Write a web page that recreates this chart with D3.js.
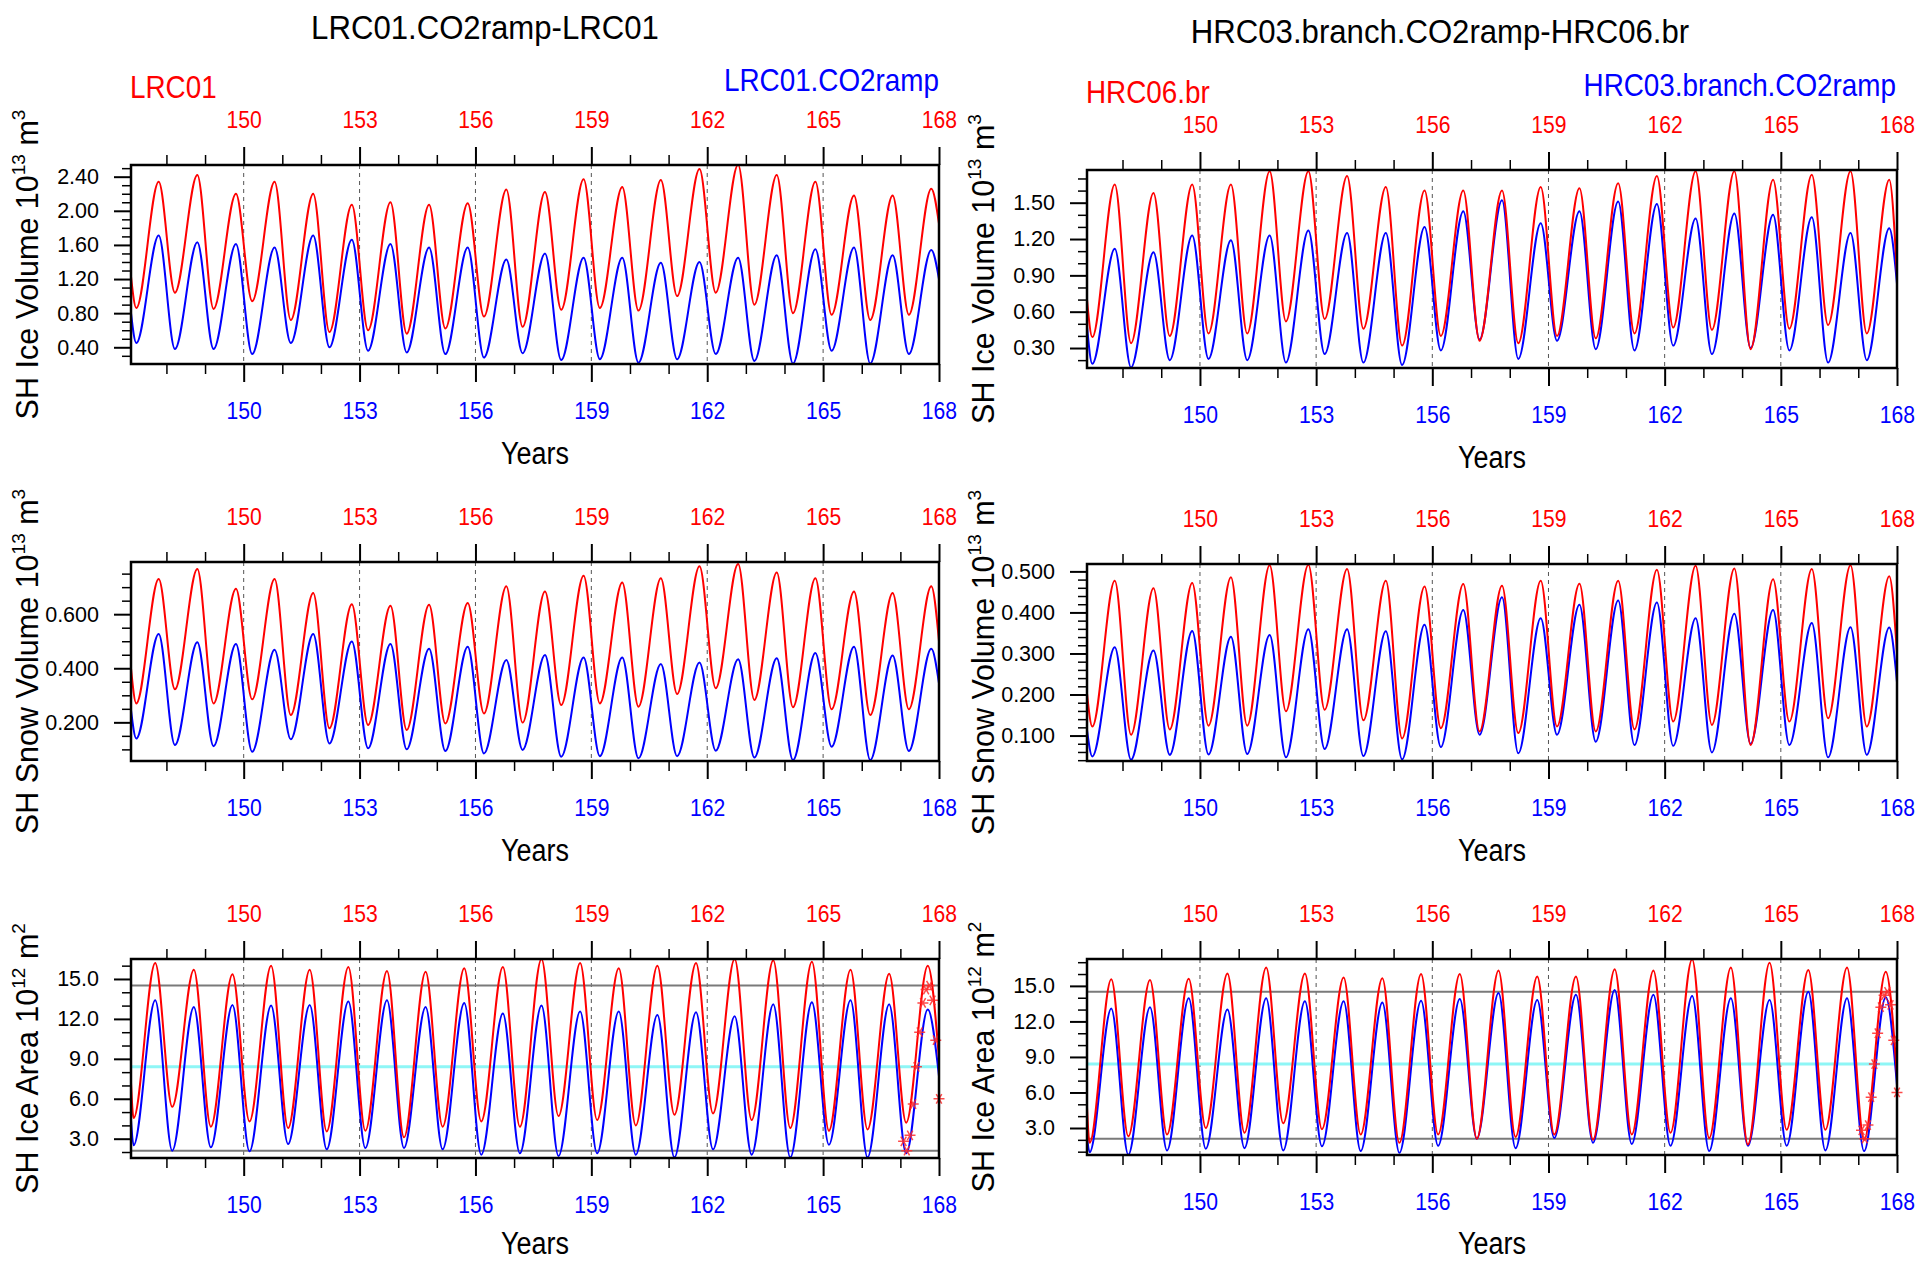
<!DOCTYPE html>
<html><head><meta charset="utf-8"><title>SH sea ice</title>
<script src="https://cdn.jsdelivr.net/npm/d3@7/dist/d3.min.js"></script>
<style>html,body{margin:0;padding:0;background:#fff}svg{display:block}</style>
</head><body>
<svg id="chart" width="1917" height="1262"></svg>
<script>
// ---------------- DATA ----------------
const leftTitle = "LRC01.CO2ramp-LRC01";
const rightTitle = "HRC03.branch.CO2ramp-HRC06.br";
const leftLegend = ["LRC01", "LRC01.CO2ramp"];
const rightLegend = ["HRC06.br", "HRC03.branch.CO2ramp"];

const years = [147,148,149,150,151,152,153,154,155,156,157,158,159,160,161,162,163,164,165,166,167];
const xMajorTicks = [150,153,156,159,162,165,168];
const xMinorTicks = [148,149,151,152,154,155,157,158,160,161,163,164,166,167];
const gridYears = [150,153,156,159,162,165];
const xDomain = [147.083, 168];

// timing of annual trough / peak within the year (fraction of year)
const volumePhase = [0.22, 0.80];
const areaPhase = [0.15, 0.71];

// ---- SH Ice Volume, LRC (10^13 m^3) ----
const lrcIceVolRedPeak   = [2.34,2.42,2.20,2.34,2.20,2.07,2.10,2.07,2.09,2.25,2.22,2.37,2.28,2.36,2.49,2.54,2.42,2.34,2.18,2.18,2.26];
const lrcIceVolRedTrough = [0.86,1.04,0.85,0.94,0.72,0.58,0.60,0.56,0.62,0.76,0.64,0.84,0.86,0.83,1.00,1.04,0.90,0.80,0.78,0.72,0.78];
const lrcIceVolRedEnds   = [1.23,1.85];
const lrcIceVolBluePeak   = [1.71,1.63,1.61,1.57,1.71,1.66,1.61,1.57,1.57,1.43,1.50,1.45,1.45,1.39,1.40,1.45,1.48,1.55,1.57,1.48,1.54];
const lrcIceVolBlueTrough = [0.45,0.38,0.38,0.32,0.45,0.40,0.36,0.34,0.32,0.28,0.33,0.25,0.26,0.22,0.26,0.32,0.24,0.21,0.36,0.21,0.32];
const lrcIceVolBlueEnds   = [0.80,1.20];

// ---- SH Ice Volume, HRC ----
const hrcIceVolRedPeak   = [1.65,1.58,1.65,1.65,1.76,1.76,1.72,1.63,1.60,1.60,1.60,1.63,1.62,1.66,1.72,1.76,1.76,1.69,1.73,1.76,1.69];
const hrcIceVolRedTrough = [0.39,0.34,0.40,0.42,0.42,0.52,0.54,0.46,0.32,0.40,0.36,0.34,0.40,0.38,0.42,0.47,0.45,0.29,0.46,0.49,0.42];
const hrcIceVolRedEnds   = [0.70,0.90];
const hrcIceVolBluePeak   = [1.12,1.09,1.23,1.19,1.23,1.27,1.25,1.25,1.30,1.43,1.52,1.33,1.43,1.51,1.49,1.37,1.41,1.40,1.38,1.25,1.29];
const hrcIceVolBlueTrough = [0.17,0.14,0.20,0.21,0.20,0.18,0.25,0.18,0.16,0.28,0.37,0.21,0.36,0.29,0.28,0.32,0.25,0.30,0.28,0.18,0.20];
const hrcIceVolBlueEnds   = [0.48,0.83];

// ---- SH Snow Volume, LRC ----
const lrcSnowVolRedPeak   = [0.730,0.767,0.694,0.730,0.678,0.637,0.631,0.635,0.641,0.703,0.684,0.742,0.717,0.733,0.777,0.786,0.754,0.733,0.684,0.678,0.703];
const lrcSnowVolRedTrough = [0.270,0.322,0.270,0.285,0.227,0.178,0.190,0.172,0.196,0.233,0.199,0.264,0.270,0.258,0.305,0.326,0.283,0.256,0.248,0.227,0.248];
const lrcSnowVolRedEnds   = [0.40,0.50];
const lrcSnowVolBluePeak   = [0.527,0.496,0.490,0.468,0.527,0.499,0.490,0.472,0.480,0.431,0.449,0.440,0.440,0.416,0.421,0.433,0.437,0.456,0.480,0.447,0.472];
const lrcSnowVolBlueTrough = [0.140,0.116,0.112,0.091,0.137,0.122,0.104,0.100,0.094,0.085,0.098,0.073,0.075,0.067,0.075,0.095,0.070,0.060,0.110,0.060,0.094];
const lrcSnowVolBlueEnds   = [0.245,0.344];

// ---- SH Snow Volume, HRC ----
const hrcSnowVolRedPeak   = [0.477,0.459,0.472,0.486,0.515,0.516,0.506,0.477,0.463,0.469,0.465,0.477,0.470,0.477,0.504,0.514,0.507,0.481,0.506,0.515,0.488];
const hrcSnowVolRedTrough = [0.122,0.102,0.115,0.124,0.124,0.159,0.163,0.137,0.093,0.118,0.110,0.106,0.122,0.110,0.115,0.134,0.126,0.077,0.134,0.142,0.122];
const hrcSnowVolRedEnds   = [0.203,0.30];
const hrcSnowVolBluePeak   = [0.315,0.307,0.355,0.341,0.345,0.359,0.359,0.354,0.370,0.406,0.437,0.386,0.419,0.429,0.424,0.386,0.397,0.406,0.374,0.364,0.363];
const hrcSnowVolBlueTrough = [0.049,0.041,0.053,0.054,0.055,0.047,0.067,0.050,0.042,0.072,0.102,0.057,0.102,0.085,0.077,0.075,0.059,0.080,0.077,0.047,0.053];
const hrcSnowVolBlueEnds   = [0.114,0.23];

// ---- SH Ice Area, LRC (10^12 m^2) ----
const lrcIceAreaRedPeak   = [16.2,15.7,15.35,16.0,15.7,15.9,15.6,15.55,15.8,15.9,16.5,16.2,15.8,16.0,16.2,16.5,16.4,16.3,15.7,15.4,16.0];
const lrcIceAreaRedTrough = [4.55,5.4,3.9,4.3,3.8,3.55,3.6,3.1,3.9,4.3,3.9,4.7,4.4,4.0,4.8,4.9,4.4,3.8,3.6,3.7,4.2];
const lrcIceAreaRedEnds   = [7.2,9.0];
const lrcIceAreaBluePeak   = [13.4,12.9,13.05,13.0,13.05,13.3,13.4,12.9,13.2,12.4,13.0,12.55,12.55,12.3,12.5,12.2,13.1,13.25,13.4,13.1,12.7];
const lrcIceAreaBlueTrough = [2.5,2.1,2.35,2.05,2.6,2.2,2.3,2.3,2.2,1.8,1.9,1.7,1.9,1.8,1.6,2.2,1.8,1.6,2.55,1.6,1.9];
const lrcIceAreaBlueEnds   = [4.4,7.7];

// ---- SH Ice Area, HRC ----
const hrcIceAreaRedPeak   = [15.55,15.5,15.6,16.05,16.55,16.05,15.7,15.65,16.0,16.0,16.3,15.8,15.8,16.4,16.3,17.25,16.55,16.95,16.35,16.55,16.2];
const hrcIceAreaRedTrough = [1.75,2.3,2.45,3.0,2.6,3.4,2.9,2.45,1.75,2.45,2.1,2.25,2.45,2.0,2.45,2.6,2.15,1.6,2.85,2.85,2.0];
const hrcIceAreaRedEnds   = [4.8,7.4];
const hrcIceAreaBluePeak   = [13.1,13.2,13.95,13.0,13.95,13.7,13.7,13.6,13.75,13.9,14.4,13.8,14.25,14.65,14.25,14.15,13.95,13.8,14.5,13.95,14.05];
const hrcIceAreaBlueTrough = [0.95,0.75,1.1,1.25,1.3,1.1,1.45,1.05,0.9,1.5,2.1,1.3,2.15,1.75,1.65,1.5,1.05,1.5,1.5,1.1,1.05];
const hrcIceAreaBlueEnds   = [2.3,6.6];

// observed monthly ice area (markers on the last year) and reference levels
const obsMonths = [1,2,3,4,5,6,7,8,9,10,11,12];
const obsArea = [2.8,2.1,3.25,5.6,8.4,11.0,13.2,14.2,14.5,13.4,10.4,6.0];
const obsLevels = [14.5, 2.1];
const obsMeanLevel = 8.4;
const obsYear = 167;

// y ranges and tick labels
const lrcIceVolRange = [0.204, 2.537];
const hrcIceVolRange = [0.135, 1.77];
const lrcSnowVolRange = [0.057, 0.793];
const hrcSnowVolRange = [0.038, 0.518];
const lrcIceAreaRange = [1.55, 16.5];
const hrcIceAreaRange = [0.72, 17.27];
const iceVolTicksLeft = [0.4,0.8,1.2,1.6,2.0,2.4];
const iceVolTicksRight = [0.3,0.6,0.9,1.2,1.5];
const snowVolTicksLeft = [0.2,0.4,0.6];
const snowVolTicksRight = [0.1,0.2,0.3,0.4,0.5];
const areaTicks = [3,6,9,12,15];

const volLabel = ["SH Ice Volume 10","13","\u00a0m","3"];
const snowLabel = ["SH Snow Volume 10","13","\u00a0m","3"];
const areaLabel = ["SH Ice Area 10","12","\u00a0m","2"];

// ---------------- LAYOUT ----------------
const FONT = '"Liberation Sans", Arial, Helvetica, sans-serif';
const cols = [{x0:131, x1:939}, {x0:1087, x1:1897}];

const panels = [
  {col:0, y0:165, y1:364, range:lrcIceVolRange, ticks:iceVolTicksLeft, fmt:".2f", minor:0.1, phase:volumePhase,
   red:[lrcIceVolRedTrough, lrcIceVolRedPeak, lrcIceVolRedEnds], blue:[lrcIceVolBlueTrough, lrcIceVolBluePeak, lrcIceVolBlueEnds], ylab:volLabel},
  {col:1, y0:170, y1:368, range:hrcIceVolRange, ticks:iceVolTicksRight, fmt:".2f", minor:0.1, phase:volumePhase,
   red:[hrcIceVolRedTrough, hrcIceVolRedPeak, hrcIceVolRedEnds], blue:[hrcIceVolBlueTrough, hrcIceVolBluePeak, hrcIceVolBlueEnds], ylab:volLabel},
  {col:0, y0:562, y1:761, range:lrcSnowVolRange, ticks:snowVolTicksLeft, fmt:".3f", minor:0.05, phase:volumePhase,
   red:[lrcSnowVolRedTrough, lrcSnowVolRedPeak, lrcSnowVolRedEnds], blue:[lrcSnowVolBlueTrough, lrcSnowVolBluePeak, lrcSnowVolBlueEnds], ylab:snowLabel},
  {col:1, y0:564, y1:761, range:hrcSnowVolRange, ticks:snowVolTicksRight, fmt:".3f", minor:0.02, phase:volumePhase,
   red:[hrcSnowVolRedTrough, hrcSnowVolRedPeak, hrcSnowVolRedEnds], blue:[hrcSnowVolBlueTrough, hrcSnowVolBluePeak, hrcSnowVolBlueEnds], ylab:snowLabel},
  {col:0, y0:959, y1:1158, range:lrcIceAreaRange, ticks:areaTicks, fmt:".1f", minor:1, phase:areaPhase, obs:true,
   red:[lrcIceAreaRedTrough, lrcIceAreaRedPeak, lrcIceAreaRedEnds], blue:[lrcIceAreaBlueTrough, lrcIceAreaBluePeak, lrcIceAreaBlueEnds], ylab:areaLabel},
  {col:1, y0:959, y1:1155, range:hrcIceAreaRange, ticks:areaTicks, fmt:".1f", minor:1, phase:areaPhase, obs:true,
   red:[hrcIceAreaRedTrough, hrcIceAreaRedPeak, hrcIceAreaRedEnds], blue:[hrcIceAreaBlueTrough, hrcIceAreaBluePeak, hrcIceAreaBlueEnds], ylab:areaLabel}
];

const svg = d3.select("#chart");
svg.append("rect").attr("width",1917).attr("height",1262).attr("fill","#fff");
const defs = svg.append("defs");

function txt(parent, x, y, str, size, anchor, color, sx) {
  return parent.append("text")
    .attr("transform", `translate(${x},${y}) scale(${sx||1},1)`)
    .attr("text-anchor", anchor).attr("font-family", FONT).attr("font-size", size)
    .attr("fill", color).text(str);
}

// titles and legends
txt(svg, 485, 39, leftTitle, 33.5, "middle", "#000", 0.93);
txt(svg, 1440, 43, rightTitle, 33.5, "middle", "#000", 0.93);
txt(svg, 130, 98, leftLegend[0], 32, "start", "#ff0000", 0.87);
txt(svg, 939, 91, leftLegend[1], 32, "end", "#0000ff", 0.87);
txt(svg, 1086, 103, rightLegend[0], 32, "start", "#ff0000", 0.87);
txt(svg, 1896, 96, rightLegend[1], 32, "end", "#0000ff", 0.87);

function buildPts(s, phase) {
  const [tr, pk, ends] = s;
  const pts = [[xDomain[0], ends[0]]];
  years.forEach((yr, i) => {
    pts.push([yr + phase[0], tr[i]]);
    pts.push([yr + phase[1], pk[i]]);
  });
  pts.push([xDomain[1], ends[1]]);
  return pts;
}

function minorTicks(range, step, majors) {
  const out = [];
  const k0 = Math.ceil(range[0] / step - 1e-9), k1 = Math.floor(range[1] / step + 1e-9);
  for (let k = k0; k <= k1; k++) {
    const v = +(k * step).toFixed(6);
    if (!majors.some(m => Math.abs(m - v) < step * 0.01)) out.push(v);
  }
  return out;
}

function asterisk(r) {
  const a = r * 0.5, b = r * 0.866;
  return `M${-r},0H${r}M${-a},${-b}L${a},${b}M${-a},${b}L${a},${-b}`;
}

panels.forEach((p, pi) => {
  const c = cols[p.col];
  const x = d3.scaleLinear().domain(xDomain).range([c.x0, c.x1]);
  const y = d3.scaleLinear().domain(p.range).range([p.y1, p.y0]);
  const g = svg.append("g");
  const clipId = "clip" + pi;
  defs.append("clipPath").attr("id", clipId).append("rect")
    .attr("x", c.x0).attr("y", p.y0).attr("width", c.x1 - c.x0).attr("height", p.y1 - p.y0);

  // dashed verticals
  g.selectAll("line.grid").data(gridYears).join("line").attr("class","grid")
    .attr("x1", d => x(d)).attr("x2", d => x(d)).attr("y1", p.y0).attr("y2", p.y1)
    .attr("stroke", "#555").attr("stroke-width", 1).attr("stroke-dasharray", "4,4");

  const plotG = g.append("g").attr("clip-path", `url(#${clipId})`);
  if (p.obs) {
    plotG.append("line").attr("x1", c.x0).attr("x2", c.x1).attr("y1", y(obsMeanLevel)).attr("y2", y(obsMeanLevel))
      .attr("stroke", "#8ef6f6").attr("stroke-width", 3);
    plotG.selectAll("line.obs").data(obsLevels).join("line").attr("class","obs")
      .attr("x1", c.x0).attr("x2", c.x1).attr("y1", d => y(d)).attr("y2", d => y(d))
      .attr("stroke", "#7a7a7a").attr("stroke-width", 2);
  }
  const line = d3.line().x(d => x(d[0])).y(d => y(d[1])).curve(d3.curveMonotoneX);
  plotG.append("path").datum(buildPts(p.blue, p.phase)).attr("d", line)
    .attr("fill", "none").attr("stroke", "#0000ff").attr("stroke-width", 2);
  plotG.append("path").datum(buildPts(p.red, p.phase)).attr("d", line)
    .attr("fill", "none").attr("stroke", "#ff0000").attr("stroke-width", 2);

  if (p.obs) {
    g.selectAll("path.star").data(obsMonths).join("path").attr("class","star")
      .attr("transform", (m, i) => `translate(${x(obsYear + m / 12)},${y(obsArea[i])})`)
      .attr("d", asterisk(5.5)).attr("fill", "none")
      .attr("stroke", "#ff2a2a").attr("stroke-width", 1.5).attr("opacity", 0.85);
  }

  // y axis
  const yAx = g.append("g").attr("transform", `translate(${c.x0},0)`)
    .call(d3.axisLeft(y).tickValues(p.ticks).tickSize(17).tickPadding(15).tickFormat(d3.format(p.fmt)));
  yAx.select(".domain").remove();
  yAx.selectAll("line").attr("stroke", "#000").attr("stroke-width", 2);
  yAx.selectAll("text").attr("font-size", 21.5).attr("font-family", FONT).attr("fill", "#000");
  const yMin = g.append("g").attr("transform", `translate(${c.x0},0)`)
    .call(d3.axisLeft(y).tickValues(minorTicks(p.range, p.minor, p.ticks)).tickSize(9).tickFormat(""));
  yMin.select(".domain").remove();
  yMin.selectAll("line").attr("stroke", "#000").attr("stroke-width", 1.5);

  // top x axis (red)
  const xTop = g.append("g").attr("transform", `translate(0,${p.y0})`)
    .call(d3.axisTop(x).tickValues(xMajorTicks).tickSize(18).tickPadding(19).tickFormat(d3.format("d")));
  xTop.select(".domain").remove();
  xTop.selectAll("line").attr("stroke", "#000").attr("stroke-width", 2);
  xTop.selectAll("text").attr("font-size", 23).attr("font-family", FONT).attr("fill", "#ff0000").attr("transform", "scale(0.92,1)");
  const xTopMin = g.append("g").attr("transform", `translate(0,${p.y0})`)
    .call(d3.axisTop(x).tickValues(xMinorTicks).tickSize(10).tickFormat(""));
  xTopMin.select(".domain").remove();
  xTopMin.selectAll("line").attr("stroke", "#000").attr("stroke-width", 1.5);

  // bottom x axis (blue)
  const xBot = g.append("g").attr("transform", `translate(0,${p.y1})`)
    .call(d3.axisBottom(x).tickValues(xMajorTicks).tickSize(18).tickPadding(21).tickFormat(d3.format("d")));
  xBot.select(".domain").remove();
  xBot.selectAll("line").attr("stroke", "#000").attr("stroke-width", 2);
  xBot.selectAll("text").attr("font-size", 23).attr("font-family", FONT).attr("fill", "#0000ff").attr("transform", "scale(0.92,1)");
  const xBotMin = g.append("g").attr("transform", `translate(0,${p.y1})`)
    .call(d3.axisBottom(x).tickValues(xMinorTicks).tickSize(10).tickFormat(""));
  xBotMin.select(".domain").remove();
  xBotMin.selectAll("line").attr("stroke", "#000").attr("stroke-width", 1.5);

  // frame
  g.append("rect").attr("x", c.x0).attr("y", p.y0).attr("width", c.x1 - c.x0).attr("height", p.y1 - p.y0)
    .attr("fill", "none").attr("stroke", "#000").attr("stroke-width", 2.5);

  // axis titles
  const yearsBase = Math.min(p.y1 + 100, 1254);
  txt(g, (c.x0 + c.x1) / 2, yearsBase, "Years", 31, "middle", "#000", 0.87);
  const yt = g.append("text")
    .attr("transform", `translate(${c.x0 - 93},${(p.y0 + p.y1) / 2}) rotate(-90)`)
    .attr("text-anchor", "middle").attr("font-family", FONT).attr("font-size", 30.5).attr("fill", "#000");
  yt.append("tspan").text(p.ylab[0]);
  yt.append("tspan").attr("font-size", 19).attr("dy", -13).text(p.ylab[1]);
  yt.append("tspan").attr("dy", 13).text(p.ylab[2]);
  yt.append("tspan").attr("font-size", 19).attr("dy", -13).text(p.ylab[3]);
});
</script>
</body></html>
